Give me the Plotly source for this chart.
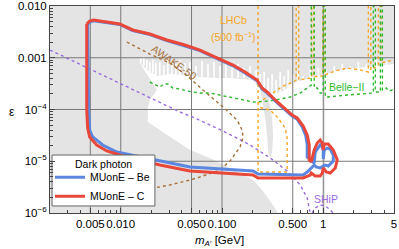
import numpy as np
import plotly.graph_objects as go

# ---------------- data (m in GeV, epsilon) ----------------
x_range_vals = [0.002, 5.0]
y_range_vals = [1e-6, 1e-2]

x_tick_vals = [0.005, 0.01, 0.05, 0.1, 0.5, 1, 5]
x_tick_text = ["0.005", "0.010", "0.050", "0.100", "0.500", "1", "5"]
y_tick_vals = [1e-6, 1e-5, 1e-4, 1e-3, 1e-2]
y_tick_text = ["10<sup>−6</sup>", "10<sup>−5</sup>", "10<sup>−4</sup>", "0.001", "0.010"]
x_minor = [0.002, 0.003, 0.004, 0.006, 0.007, 0.008, 0.009, 0.02, 0.03, 0.04, 0.06, 0.07,
           0.08, 0.09, 0.2, 0.3, 0.4, 0.6, 0.7, 0.8, 0.9, 2, 3, 4]
y_minor = [k * 10.0 ** e for e in (-6, -5, -4, -3) for k in range(2, 10)]
x_grid = [0.005, 0.01, 0.05, 0.1, 0.5, 1]
y_grid = [1e-5, 1e-4, 1e-3]

# allowed (white) region: upper boundary then lower/left boundary
allowed_m = [0.01474, 0.01651, 0.01937, 0.02324, 0.03055, 0.04302, 0.06057, 0.0852, 0.12, 0.1689,
             0.2027, 0.2221, 0.2666, 0.3348, 0.4205, 0.4822, 0.5528, 0.6635, 0.8334, 1.047,
             1.473, 2.074, 2.919, 4.111, 5.0,
             5.0, 0.3584, 0.2987, 0.2489, 0.2027, 0.1614, 0.1023, 0.0761, 0.04821, 0.03055,
             0.01851, 0.01851, 0.01937, 0.02272]
allowed_eps = [9.05e-4, 6.93e-4, 5.30e-4, 4.44e-4, 4.85e-4, 4.64e-4, 4.25e-4, 4.06e-4, 4.06e-4, 3.89e-4,
               3.72e-4, 2.845e-4, 2.18e-4, 1.993e-4, 2.38e-4, 3.11e-4, 3.40e-4, 3.72e-4, 4.44e-4, 4.85e-4,
               5.80e-4, 6.34e-4, 6.63e-4, 7.24e-4, 7.57e-4,
               1e-6, 1e-6, 1.705e-6, 2.78e-6, 4.34e-6, 5.42e-6, 8.46e-6, 1.156e-5, 1.65e-5, 2.94e-5,
               5.74e-5, 1.07e-4, 1.53e-4, 2.38e-4]

# thin allowed spikes reaching up into the excluded band
spike_m = [0.01578, 0.01689, 0.01809, 0.01937, 0.02075, 0.02221, 0.02432, 0.02665, 0.02919, 0.03199,
           0.03504, 0.03838, 0.04302, 0.04821, 0.05527, 0.06339, 0.07267, 0.08332, 0.0955, 0.1095,
           0.1256, 0.1440, 0.1651, 0.1893, 0.2171, 0.2377, 0.2605, 0.2854, 0.3126, 0.3424,
           0.3752, 0.4111, 0.4503, 0.5047, 0.5656, 0.6339, 0.7437, 0.8923, 1.071, 1.285,
           1.542, 1.851, 2.221, 2.665, 3.348, 4.205]
spike_top = [9.89e-4, 1.034e-3, 9.05e-4, 8.28e-4, 9.05e-4, 7.92e-4, 8.28e-4, 7.24e-4, 9.05e-4, 8.28e-4,
             7.57e-4, 9.05e-4, 7.92e-4, 8.28e-4, 6.93e-4, 8.66e-4, 7.57e-4, 8.28e-4, 6.93e-4, 7.92e-4,
             6.93e-4, 7.57e-4, 6.34e-4, 6.93e-4, 5.80e-4, 4.85e-4, 5.30e-4, 4.06e-4, 4.85e-4, 3.72e-4,
             5.30e-4, 4.44e-4, 5.80e-4, 4.85e-4, 5.30e-4, 4.44e-4, 5.80e-4, 6.34e-4, 5.80e-4, 6.93e-4,
             7.57e-4, 6.93e-4, 8.28e-4, 7.57e-4, 9.05e-4, 8.28e-4]
spike_low = [7.92e-4, 6.93e-4, 6.06e-4, 5.30e-4, 4.85e-4, 4.64e-4, 4.5e-4, 4.5e-4, 4.5e-4, 4.5e-4,
             4.5e-4, 4.5e-4, 4.5e-4, 4.5e-4, 4.06e-4, 4.06e-4, 4.06e-4, 4.06e-4, 4.06e-4, 4.06e-4,
             4.06e-4, 4.06e-4, 4.06e-4, 3.9e-4, 3.25e-4, 2.5e-4, 2.3e-4, 2.2e-4, 2.0e-4, 2.0e-4,
             2.2e-4, 2.4e-4, 2.6e-4, 3.2e-4, 3.4e-4, 3.6e-4, 4.0e-4, 4.4e-4, 4.6e-4, 5.0e-4,
             5.6e-4, 6.0e-4, 6.2e-4, 6.4e-4, 6.8e-4, 7.0e-4]

# narrow excluded strip
strip_m = [0.2377, 0.2546, 0.2666, 0.2790, 0.2854, 0.2987, 0.3126, 0.3198, 0.3126, 0.2919, 0.2727]
strip_eps = [2.60e-4, 1.22e-4, 6.85e-5, 3.21e-5, 1.51e-5, 1.156e-5, 1.51e-5, 3.21e-5, 6.85e-5, 1.53e-4, 2.60e-4]
phi_m = [1.02, 1.02]
phi_eps = [1e-6, 1e-2]

# MUonE - C (red)
c_m = [0.00461, 0.00493, 0.00540, 0.00620, 0.00778, 0.00977, 0.01315, 0.01937, 0.02853, 0.04302,
       0.06057, 0.0852, 0.1285, 0.1689, 0.2221, 0.2489, 0.2790, 0.3348, 0.4018, 0.4933,
       0.5528, 0.6339, 0.6943, 0.7270, 0.7270,
       0.7608, 0.8145, 0.8723, 0.9339, 0.9775, 1.0, 1.023, 1.121, 1.256, 1.376,
       1.315, 1.173, 1.071, 1.0, 0.9775, 0.9339, 0.8334, 0.7608,
       0.7437, 0.6339, 0.3752, 0.2272, 0.2027, 0.0955, 0.04821, 0.03838, 0.02432, 0.01542,
       0.00977, 0.00727, 0.00579, 0.00493, 0.00471, 0.00461, 0.00461]
c_eps = [4.49e-3, 5.13e-3, 5.36e-3, 5.13e-3, 4.91e-3, 4.49e-3, 3.44e-3, 2.88e-3, 2.20e-3, 1.76e-3,
         1.41e-3, 1.03e-3, 7.24e-4, 5.30e-4, 3.72e-4, 2.60e-4, 2.18e-4, 1.53e-4, 1.12e-4, 7.83e-5,
         6.85e-5, 4.80e-5, 3.21e-5, 2.06e-5, 1.06e-5,
         9.67e-6, 1.65e-5, 2.25e-5, 2.57e-5, 2.25e-5, 1.65e-5, 2.15e-5, 2.15e-5, 1.65e-5, 1.06e-5,
         7.41e-6, 5.93e-6, 6.20e-6, 7.41e-6, 5.93e-6, 5.19e-6, 5.19e-6, 5.93e-6,
         5.42e-6, 4.75e-6, 4.75e-6, 4.75e-6, 5.42e-6, 5.93e-6, 6.48e-6, 7.08e-6, 8.46e-6, 1.06e-5,
         1.32e-5, 1.58e-5, 2.06e-5, 2.94e-5, 4.39e-5, 9.78e-5, 4.49e-3]

# MUonE - Be (blue)
be_m = [0.00471, 0.00505, 0.00540, 0.00620, 0.00780, 0.00980, 0.01310, 0.01940, 0.02850, 0.04300,
        0.06060, 0.0852, 0.1285, 0.1689, 0.2221, 0.2489, 0.2790, 0.3348, 0.4018, 0.4933,
        0.5528, 0.6200, 0.6700, 0.6943, 0.6943,
        0.8145, 0.8334, 0.8923, 0.9339, 0.9775, 1.0, 1.0, 1.023, 1.0956, 1.173, 1.256, 1.256,
        1.121, 1.047, 1.0, 0.9339, 0.8524, 0.8145,
        0.6943, 0.6339, 0.2272, 0.2027, 0.04821, 0.03838, 0.01542, 0.00913, 0.00663, 0.00528,
        0.00493, 0.00482, 0.00471]
be_eps = [4.40e-3, 5.00e-3, 5.20e-3, 5.00e-3, 4.80e-3, 4.40e-3, 3.35e-3, 2.80e-3, 2.14e-3, 1.71e-3,
          1.37e-3, 1.00e-3, 7.00e-4, 5.10e-4, 3.60e-4, 2.50e-4, 2.10e-4, 1.47e-4, 1.07e-4, 7.50e-5,
          6.50e-5, 4.60e-5, 3.20e-5, 2.10e-5, 1.20e-5,
          9.25e-6, 1.51e-5, 1.88e-5, 2.06e-5, 1.88e-5, 1.65e-5, 1.105e-5, 1.65e-5, 1.80e-5, 1.72e-5, 1.32e-5, 1.01e-5,
          8.10e-6, 8.46e-6, 8.10e-6, 7.41e-6, 7.74e-6, 8.46e-6,
          6.20e-6, 5.42e-6, 5.67e-6, 6.48e-6, 7.74e-6, 8.46e-6, 1.21e-5, 1.51e-5, 2.06e-5, 2.94e-5,
          4.02e-5, 9.78e-5, 4.40e-3]

# SHiP (purple)
ship_m = [0.002, 0.0062, 0.01937, 0.03838, 0.05404, 0.1023, 0.1893, 0.2987, 0.4401, 0.5921, 0.6943, 0.7437]
ship_eps = [1.41e-3, 4.85e-4, 1.668e-4, 8.95e-5, 6.85e-5, 3.84e-5, 2.06e-5, 1.16e-5, 6.48e-6, 3.48e-6, 1.95e-6, 1e-6]
ship2_m = [0.778, 0.8334, 0.9339, 1.047, 1.147, 1.256]
ship2_eps = [1e-6, 1.249e-6, 1.428e-6, 1.366e-6, 1.195e-6, 1e-6]

# AWAKE-50 (brown)
awake_m = [0.01147, 0.01937, 0.03055, 0.04302, 0.06485, 0.1023, 0.1408, 0.1578, 0.1614, 0.1508,
           0.1200, 0.0955, 0.06057, 0.04821, 0.03055, 0.0165, 0.0062]
awake_eps = [2.015e-3, 1.18e-3, 7.92e-4, 4.85e-4, 2.38e-4, 1.12e-4, 6.27e-5, 4.02e-5, 2.94e-5, 1.88e-5,
             1.01e-5, 6.78e-6, 4.96e-6, 4.34e-6, 3.48e-6, 2.78e-6, 1.78e-6]

# LHCb (orange): displaced and prompt
lhcb_d_m = [0.2272, 0.2272, 0.4401, 0.4401, 0.4205, 0.3584, 0.2987, 0.2272]
lhcb_d_eps = [1e-2, 6.20e-6, 6.20e-6, 2.81e-5, 4.39e-5, 6.85e-5, 9.78e-5, 1.12e-4]
lhcb_p_m = [0.2272, 0.2987, 0.4018, 0.5047, 0.5403, 0.5403, 0.5721, 0.5721, 0.6635, 0.7694, 0.7694,
            0.8051, 0.8051, 0.8923, 0.9886, 0.9886, 1.035, 1.035, 1.315, 1.728, 2.324, 2.790, 2.790,
            2.953, 2.953, 3.504, 3.504, 3.710, 3.710, 4.40, 5.0]
lhcb_p_eps = [1.335e-4, 1.906e-4, 2.845e-4, 3.40e-4, 3.72e-4, 1e-2, 1e-2, 3.72e-4, 3.886e-4, 4.06e-4, 1e-2,
              1e-2, 4.25e-4, 4.44e-4, 4.44e-4, 1e-2, 1e-2, 4.64e-4, 5.55e-4, 6.34e-4, 5.80e-4, 5.30e-4, 1e-2,
              1e-2, 5.80e-4, 7.24e-4, 1e-2, 1e-2, 7.92e-4, 8.66e-4, 9.05e-4]

# Belle-II (green)
belle_m = [0.01937, 0.02027, 0.02432, 0.02665, 0.02919, 0.03272, 0.03838, 0.04503, 0.06057, 0.0761,
           0.1200, 0.2027, 0.2987, 0.4714, 0.5921, 0.7437, 0.7608, 0.7608, 0.8145, 0.8145, 0.8723,
           0.9339, 1.0, 1.0, 1.047, 1.047, 1.0956, 1.728, 2.727, 3.126, 3.126, 3.272, 3.272, 3.426,
           3.668, 3.668, 3.840, 3.840, 3.930, 4.205, 4.402, 4.823, 5.0]
belle_eps = [3.40e-4, 3.25e-4, 2.72e-4, 3.11e-4, 3.11e-4, 2.60e-4, 2.49e-4, 2.28e-4, 2.08e-4, 2.08e-4,
             1.743e-4, 1.396e-4, 1.46e-4, 1.743e-4, 2.08e-4, 2.97e-4, 2.97e-4, 1e-2, 1e-2, 2.60e-4, 2.60e-4,
             2.08e-4, 2.08e-4, 1e-2, 1e-2, 1.743e-4, 1.743e-4, 1.906e-4, 2.08e-4, 2.08e-4, 1e-2, 1e-2, 2.18e-4, 2.18e-4,
             2.18e-4, 1e-2, 1e-2, 2.38e-4, 2.38e-4, 2.60e-4, 2.28e-4, 2.38e-4, 2.28e-4]

# labels: (text, m, eps, color, angle)
labels = [
    ("LHCb", 0.1285, 5.36e-3, "#F5A623", 0),
    ("(500 fb<sup>−1</sup>)", 0.1285, 2.52e-3, "#F5A623", 0),
    ("Belle−II", 1.69, 2.72e-4, "#2DB82D", 0),
    ("SHiP", 1.071, 1.865e-6, "#9A6BE0", 0),
    ("AWAKE-50", 0.0335, 8.2e-4, "#A5703A", 35),
]
legend_title = "Dark photon"

# ---------------- figure ----------------
FONT = "Liberation Sans, Arial, sans-serif"
GRAY = "#E4E4E4"
RED = "#E8473A"
BLUE = "#5B87E0"

fig = go.Figure()


def line_trace(xs, ys, color, width, dash=None, fill=None, fillcolor=None, name=None, legend=False, group=None):
    return go.Scatter(x=xs, y=ys, mode="lines", fill=fill, fillcolor=fillcolor,
                      line=dict(color=color, width=width, dash=dash),
                      showlegend=legend, name=name, legendgroup=group, hoverinfo="skip")


fig.add_trace(line_trace(allowed_m, allowed_eps, "rgba(0,0,0,0)", 0, fill="toself", fillcolor="white"))

sx, sy = [], []
for m, lo, hi in zip(spike_m, spike_low, spike_top):
    sx += [m, m, None]
    sy += [lo, hi, None]
fig.add_trace(line_trace(sx, sy, "white", 1.6))

fig.add_trace(line_trace(strip_m, strip_eps, "rgba(0,0,0,0)", 0, fill="toself", fillcolor=GRAY))
fig.add_trace(line_trace(phi_m, phi_eps, GRAY, 2))

# grid lines
gx, gy = [], []
for v in x_grid:
    gx += [v, v, None]
    gy += [y_range_vals[0], y_range_vals[1], None]
for v in y_grid:
    gx += [x_range_vals[0], x_range_vals[1], None]
    gy += [v, v, None]
fig.add_trace(line_trace(gx, gy, "#7A7A7A", 1))

fig.add_trace(line_trace(ship_m, ship_eps, "#9A6BE0", 1.4, dash="dot"))
fig.add_trace(line_trace(ship2_m, ship2_eps, "#9A6BE0", 1.4, dash="dot"))
fig.add_trace(line_trace(awake_m, awake_eps, "#A5703A", 1.4, dash="dot"))
fig.add_trace(line_trace(lhcb_d_m, lhcb_d_eps, "#F5A623", 1.4, dash="dot"))
fig.add_trace(line_trace(lhcb_p_m, lhcb_p_eps, "#F5A623", 1.4, dash="dot"))
fig.add_trace(line_trace(belle_m, belle_eps, "#2DB82D", 1.4, dash="dot"))

fig.add_trace(line_trace(be_m, be_eps, BLUE, 3, name="MUonE – Be", legend=True, group="be"))
fig.add_trace(line_trace(c_m, c_eps, RED, 3, name="MUonE – C", legend=True, group="c"))

# legend frame on an overlay (fraction-of-plot) axis so it sits above all curves
box = go.Scatter(x=[0.006, 0.305, 0.305, 0.006, 0.006], y=[0.034, 0.034, 0.28, 0.28, 0.034],
                 mode="lines", fill="toself", fillcolor="white", line=dict(color="#666", width=1),
                 xaxis="x2", yaxis="y2", showlegend=False, hoverinfo="skip")
fig.add_trace(box)

for text, m, e, col, ang in labels:
    fig.add_annotation(x=np.log10(m), y=np.log10(e), xref="x", yref="y", text=text, showarrow=False,
                       textangle=ang, font=dict(family=FONT, size=10.5, color=col))

fig.add_annotation(x=-0.11, y=0.488, xref="paper", yref="paper", xanchor="center", yanchor="middle",
                   text="ε", showarrow=False, font=dict(family=FONT, size=12, color="black"))
fig.add_annotation(x=0.494, y=-0.135, xref="paper", yref="paper", xanchor="center", yanchor="middle",
                   text="<i>m</i><sub><i>A</i>′</sub> [GeV]", showarrow=False,
                   font=dict(family=FONT, size=11.5, color="black"))
fig.add_annotation(x=0.155, y=0.237, xref="paper", yref="paper", xanchor="center", yanchor="middle",
                   text=legend_title, showarrow=False, font=dict(family=FONT, size=10.5, color="black"))

axis_common = dict(type="log", showgrid=False, zeroline=False, showline=True, linecolor="#444",
                   linewidth=1, mirror=True, ticks="inside", ticklen=5, tickcolor="#444",
                   automargin=False, tickangle=0,
                   tickfont=dict(family=FONT, size=11.5, color="black"))

fig.update_layout(
    xaxis=dict(range=[np.log10(x_range_vals[0]), np.log10(x_range_vals[1])],
               tickmode="array", tickvals=x_tick_vals, ticktext=x_tick_text,
               minor=dict(tickmode="array", tickvals=x_minor, ticks="inside", ticklen=3,
                          tickcolor="#444", showgrid=False),
               **axis_common),
    yaxis=dict(range=[np.log10(y_range_vals[0]), np.log10(y_range_vals[1])],
               tickmode="array", tickvals=y_tick_vals, ticktext=y_tick_text,
               minor=dict(tickmode="array", tickvals=y_minor, ticks="inside", ticklen=3,
                          tickcolor="#444", showgrid=False),
               **axis_common),
    xaxis2=dict(overlaying="x", anchor="y2", range=[0, 1], visible=False, fixedrange=True),
    yaxis2=dict(overlaying="y", anchor="x2", range=[0, 1], visible=False, fixedrange=True),
    width=399, height=249,
    margin=dict(l=50, r=5, t=6, b=36, autoexpand=False),
    plot_bgcolor=GRAY, paper_bgcolor="white",
    font=dict(family=FONT, size=11.5, color="black"),
    legend=dict(x=0.0, y=0.243, xanchor="left", yanchor="top", bgcolor="rgba(0,0,0,0)",
                borderwidth=0, font=dict(family=FONT, size=10.5),
                itemwidth=30, tracegroupgap=0),
)

fig.write_html("out.html", config={"displayModeBar": False},
               post_script="document.body.style.margin='0px';")
